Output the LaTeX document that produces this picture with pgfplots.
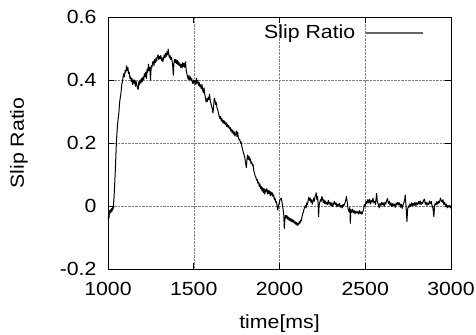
\documentclass[border=0pt]{standalone}
\usepackage{fontspec}
\setmainfont{Liberation Sans}[FakeStretch=1.12]
\usepackage{pgfplots}
\pgfplotsset{compat=1.18}
\pgfplotstableread{
x y
1000 -0.045
1003 -0.03
1006 -0.038
1009 -0.015
1012 -0.022
1015 -0.012
1018 -0.02
1021 -0.008
1024 -0.016
1027 -0.005
1030 -0.01
1033 0.01
1036 0.035
1040 0.08
1044 0.13
1048 0.19
1052 0.23
1056 0.26
1060 0.28
1064 0.30
1068 0.33
1072 0.345
1076 0.36
1080 0.385
1084 0.395
1088 0.41
1092 0.42
1096 0.41
1100 0.43
1104 0.425
1108 0.445
1112 0.43
1116 0.44
1120 0.42
1124 0.425
1128 0.405
1132 0.41
1136 0.395
1140 0.405
1144 0.385
1148 0.40
1152 0.39
1156 0.40
1160 0.38
1164 0.395
1168 0.385
1172 0.375
1176 0.37
1180 0.395
1184 0.385
1188 0.40
1192 0.39
1196 0.405
1200 0.395
1204 0.41
1208 0.40
1212 0.42
1216 0.41
1220 0.425
1224 0.405
1228 0.435
1232 0.425
1236 0.45
1240 0.43
1244 0.44
1248 0.40
1252 0.445
1256 0.44
1260 0.455
1264 0.46
1268 0.445
1272 0.465
1276 0.455
1280 0.47
1284 0.46
1288 0.475
1292 0.48
1296 0.465
1300 0.475
1304 0.468
1308 0.478
1312 0.462
1316 0.47
1320 0.458
1324 0.47
1328 0.48
1332 0.47
1336 0.485
1340 0.475
1344 0.49
1348 0.48
1351 0.498
1354 0.485
1358 0.47
1362 0.478
1366 0.465
1370 0.472
1374 0.46
1378 0.44
1381 0.415
1384 0.45
1388 0.465
1392 0.455
1396 0.465
1400 0.452
1404 0.462
1408 0.448
1412 0.458
1416 0.445
1420 0.452
1424 0.44
1428 0.45
1432 0.438
1436 0.455
1440 0.443
1444 0.452
1448 0.44
1452 0.458
1456 0.43
1460 0.42
1464 0.41
1468 0.402
1472 0.415
1476 0.4
1480 0.41
1484 0.398
1488 0.405
1492 0.392
1496 0.388
1500 0.4
1504 0.39
1508 0.398
1512 0.385
1516 0.405
1520 0.39
1524 0.398
1528 0.383
1532 0.392
1536 0.378
1540 0.385
1544 0.372
1548 0.385
1552 0.368
1556 0.36
1560 0.375
1564 0.355
1568 0.345
1572 0.33
1576 0.34
1580 0.332
1584 0.345
1588 0.338
1592 0.355
1596 0.335
1600 0.325
1604 0.318
1608 0.308
1612 0.295
1616 0.318
1620 0.342
1624 0.335
1628 0.322
1632 0.328
1636 0.31
1640 0.305
1644 0.295
1648 0.285
1652 0.278
1656 0.285
1660 0.27
1664 0.278
1668 0.265
1672 0.272
1676 0.262
1680 0.27
1684 0.258
1688 0.265
1692 0.252
1696 0.26
1700 0.25
1704 0.255
1708 0.245
1712 0.25
1716 0.238
1720 0.244
1724 0.232
1728 0.24
1732 0.228
1736 0.235
1740 0.222
1744 0.228
1748 0.238
1752 0.22
1756 0.235
1760 0.218
1764 0.21
1768 0.212
1772 0.2
1776 0.204
1780 0.19
1784 0.182
1788 0.172
1792 0.165
1796 0.158
1800 0.145
1804 0.13
1807 0.122
1810 0.145
1814 0.162
1818 0.148
1822 0.158
1826 0.145
1830 0.15
1834 0.135
1838 0.14
1842 0.128
1846 0.132
1850 0.112
1854 0.105
1858 0.095
1862 0.092
1866 0.082
1870 0.085
1874 0.072
1878 0.076
1882 0.062
1886 0.07
1890 0.055
1894 0.062
1898 0.048
1902 0.058
1906 0.042
1910 0.055
1914 0.038
1918 0.052
1922 0.045
1926 0.055
1930 0.038
1934 0.05
1938 0.04
1942 0.048
1946 0.032
1950 0.045
1954 0.035
1958 0.042
1962 0.03
1966 0.035
1970 0.02
1974 0.025
1978 0.012
1982 0.015
1986 0.0
1990 -0.013
1994 0.0
1998 0.008
2002 0.018
2006 0.022
2010 0.025
2014 0.015
2018 0.0
2022 -0.015
2025 -0.03
2028 -0.071
2031 -0.045
2035 -0.03
2039 -0.038
2043 -0.03
2047 -0.042
2051 -0.035
2055 -0.045
2059 -0.038
2063 -0.048
2067 -0.04
2071 -0.05
2075 -0.043
2079 -0.052
2083 -0.045
2087 -0.055
2091 -0.05
2095 -0.058
2099 -0.052
2103 -0.062
2107 -0.055
2111 -0.06
2115 -0.05
2119 -0.055
2123 -0.045
2127 -0.048
2131 -0.035
2135 -0.025
2139 -0.02
2143 -0.01
2147 -0.005
2151 0.002
2155 -0.006
2159 0.01
2163 0.004
2167 0.018
2171 0.028
2175 0.018
2179 0.025
2183 0.012
2187 0.02
2191 0.006
2195 0.015
2199 0.025
2203 0.015
2207 0.03
2211 0.035
2214 0.042
2218 0.02
2222 0.03
2225 0.01
2228 -0.034
2231 0.002
2235 0.012
2239 0.02
2243 0.015
2247 0.03
2251 0.024
2255 0.01
2259 0.02
2263 0.008
2267 0.016
2271 0.006
2275 0.012
2279 0.004
2285 0.018
2290 0.005
2295 0.012
2300 0.0
2305 0.01
2310 -0.002
2315 0.008
2320 0.015
2325 0.004
2330 0.01
2335 -0.003
2340 0.006
2345 0.0
2350 0.008
2355 -0.004
2360 0.002
2365 -0.006
2370 0.005
2375 0.0
2380 0.008
2385 0.015
2390 0.03
2395 0.012
2400 -0.01
2405 -0.018
2410 -0.005
2413 -0.055
2416 -0.012
2420 -0.02
2425 -0.01
2430 -0.022
2435 -0.014
2440 -0.025
2445 -0.016
2450 -0.022
2455 -0.018
2460 -0.026
2465 -0.015
2470 -0.024
2475 -0.018
2480 -0.026
2485 -0.02
2490 -0.01
2495 0.005
2500 0.0
2505 0.015
2510 0.008
2515 0.02
2520 0.01
2525 0.022
2530 0.006
2535 0.018
2540 0.012
2545 0.025
2550 0.01
2555 0.015
2560 0.005
2566 0.04
2571 0.012
2576 0.005
2581 -0.006
2586 0.008
2591 0.002
2596 0.012
2600 0.004
2605 0.01
2610 -0.002
2615 0.012
2620 0.006
2625 0.018
2630 0.024
2635 0.008
2640 0.015
2645 0.002
2650 0.01
2655 -0.002
2660 0.008
2665 0.0
2670 0.006
2675 -0.004
2680 0.01
2685 0.003
2690 0.012
2695 0.004
2700 0.01
2705 -0.004
2710 0.006
2715 -0.008
2720 0.002
2725 0.01
2730 0.02
2733 0.035
2737 0.005
2740 -0.02
2743 -0.05
2747 -0.01
2752 0.0
2756 -0.004
2760 0.006
2765 -0.002
2770 0.01
2775 0.0
2780 0.008
2785 0.002
2790 0.012
2795 0.0
2800 0.01
2805 0.004
2810 0.014
2815 0.006
2820 0.016
2825 0.004
2830 0.012
2835 0.008
2840 0.018
2845 0.022
2850 0.006
2855 0.012
2860 0.002
2865 0.01
2870 0.004
2875 0.016
2880 0.008
2885 0.014
2890 0.0
2895 -0.008
2900 -0.034
2904 0.0
2908 0.008
2913 0.003
2918 0.014
2923 0.006
2928 0.015
2933 0.01
2938 0.025
2943 0.018
2948 0.012
2953 0.02
2958 0.005
2963 0.012
2968 0.0
2973 0.006
2978 -0.006
2983 0.002
2988 -0.004
2993 0.002
2998 -0.006
3000 -0.002
}\slipdata
\begin{document}
\begin{tikzpicture}[font=\fontsize{19}{22}\selectfont]
\begin{axis}[
  scale only axis, width=343pt, height=252pt,
  xmin=1000, xmax=3000, ymin=-0.2, ymax=0.6,
  xtick={1000,1500,2000,2500,3000},
  xticklabels={1000,1500,2000,2500,3000},
  ytick={-0.2,0,0.2,0.4,0.6},
  yticklabels={-0.2,0,0.2,0.4,0.6},
  ticklabel style={font=\fontsize{19}{22}\selectfont},
  xticklabel style={yshift=-10pt},
  yticklabel style={xshift=-8pt},
  tick align=inside, major tick length=6pt,
  tick style={black, line width=0.6pt},
  axis line style={black, line width=0.9pt},
  grid=major,
  major grid style={densely dotted, black!50, line width=0.5pt},
  xlabel={time[ms]},
  ylabel={Slip Ratio},
  xlabel style={at={(axis description cs:0.5,-0.2183)}, anchor=center},
  ylabel style={at={(axis description cs:-0.2595,0.5)}, anchor=center},
  legend plot pos=right,
  legend image code/.code={\path (0pt,0pt); \draw[black!60, line width=2pt] (10pt,0pt) -- (67pt,0pt);},
  legend style={draw=none, fill=none, at={(axis description cs:0.9213,0.9377)}, anchor=east, inner sep=0pt, nodes={inner sep=0pt}, font=\fontsize{19}{22}\selectfont},
]
\addplot[black, line width=1pt, line join=round] table[x=x, y=y] {\slipdata};
\addlegendentry{Slip Ratio}
\end{axis}
\pgfresetboundingbox
\path ([xshift=-108pt,yshift=-66pt]current axis.south west) rectangle ([xshift=25pt,yshift=17pt]current axis.north east);
\end{tikzpicture}
\end{document}
